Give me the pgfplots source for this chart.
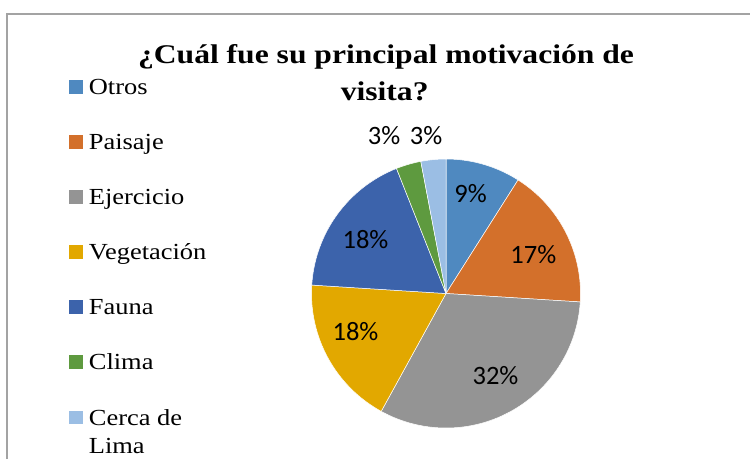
\documentclass[border=0pt]{standalone}
\usepackage{fontspec}
\setmainfont{Liberation Serif}
\newfontfamily\legfont[FakeStretch=1.15]{Liberation Serif}
\newfontfamily\titlefont[FakeStretch=1.17]{Liberation Serif}
\newfontfamily\calibri{Carlito}
\usepackage{pgfplots}
\pgfplotsset{compat=1.18}
\definecolor{cOtros}{HTML}{4F89C0}
\definecolor{cPaisaje}{HTML}{D3702B}
\definecolor{cEjercicio}{HTML}{949494}
\definecolor{cVeg}{HTML}{E2A800}
\definecolor{cFauna}{HTML}{3C63AB}
\definecolor{cClima}{HTML}{5E9A3F}
\definecolor{cCerca}{HTML}{9BBEE4}
\definecolor{frame}{HTML}{A3A3A3}
% slice: start angle, end angle, colour (pie centre 446,293.5 px, radius 134.5 px)
\newcommand{\slice}[3]{\filldraw[fill=#3,draw=white,line width=0.5pt]
  (axis cs:446,293.5) -- ++(#1:134.5pt) arc[start angle=#1,end angle=#2,radius=134.5pt] -- cycle;}
\newcommand{\legrow}[3]{%
  \fill[#1] (axis cs:69,#2-14.2) rectangle (axis cs:83,#2-0.6);
  \node[anchor=base west,inner sep=0pt,font=\legfont\fontsize{23}{28}\selectfont] at (axis cs:88.7,#2) {#3};}
\newcommand{\pct}[3]{\node[anchor=base,inner sep=0pt,font=\calibri\fontsize{26.5}{30}\selectfont] at (axis cs:#1,#2) {#3};}

\begin{document}
\begin{tikzpicture}
\begin{axis}[
  width=750pt, height=459pt, scale only axis,
  xmin=0, xmax=750, ymin=0, ymax=459, y dir=reverse,
  hide axis, clip=false,
]
% chart frame
\draw[frame,line width=1.4pt] (axis cs:7,459) -- (axis cs:7,14) -- (axis cs:750,14);

% values (%): Otros 9, Paisaje 17, Ejercicio 32, Vegetacion 18, Fauna 18, Clima 3, Cerca de Lima 3
\slice{90}{{90-3.6*9}}{cOtros}
\slice{{90-3.6*9}}{{90-3.6*26}}{cPaisaje}
\slice{{90-3.6*26}}{{90-3.6*58}}{cEjercicio}
\slice{{90-3.6*58}}{{90-3.6*76}}{cVeg}
\slice{{90-3.6*76}}{{90-3.6*94}}{cFauna}
\slice{{90-3.6*94}}{{90-3.6*97}}{cClima}
\slice{{90-3.6*97}}{-270}{cCerca}

\pct{470.5}{202.7}{9\%}
\pct{533.3}{263.7}{17\%}
\pct{495.5}{384}{32\%}
\pct{355.5}{340.7}{18\%}
\pct{365.5}{248.3}{18\%}
\pct{384}{144}{3\%}
\pct{426}{144}{3\%}

% title
\node[anchor=base,inner sep=0pt,font=\titlefont\bfseries\fontsize{27}{30}\selectfont] at (axis cs:386,63.3) {¿Cuál fue su principal motivación de};
\node[anchor=base,inner sep=0pt,font=\titlefont\bfseries\fontsize{27}{30}\selectfont] at (axis cs:384.7,100) {visita?};

% legend
\legrow{cOtros}{94.3}{Otros}
\legrow{cPaisaje}{149.3}{Paisaje}
\legrow{cEjercicio}{204.3}{Ejercicio}
\legrow{cVeg}{259.3}{Vegetación}
\legrow{cFauna}{314.3}{Fauna}
\legrow{cClima}{369.3}{Clima}
\legrow{cCerca}{425}{Cerca de}
\node[anchor=base west,inner sep=0pt,font=\legfont\fontsize{23}{28}\selectfont] at (axis cs:88.7,453.3) {Lima};
\end{axis}
\pgfresetboundingbox
\useasboundingbox (current axis.south west) rectangle (current axis.north east);
\end{tikzpicture}
\end{document}
